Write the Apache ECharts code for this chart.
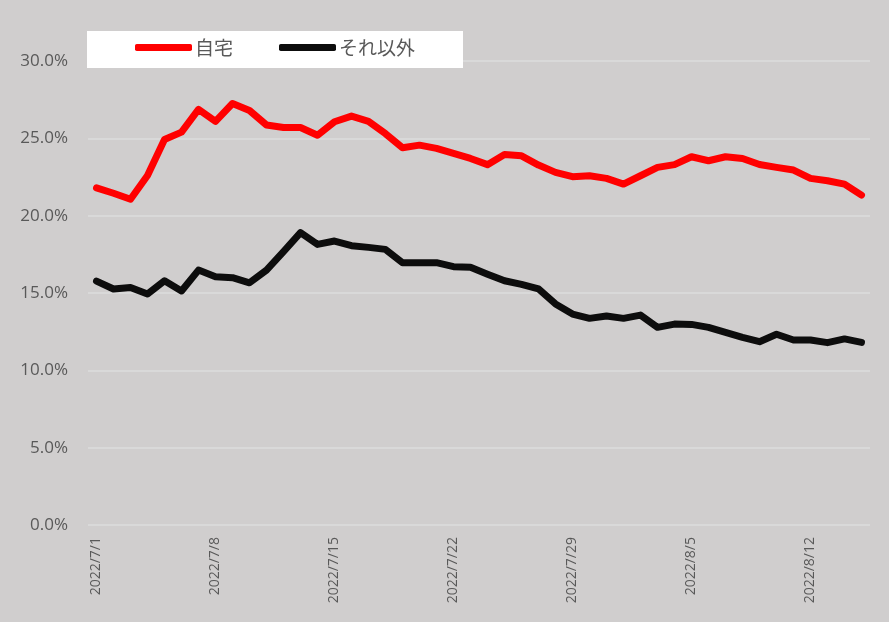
<!DOCTYPE html>
<html>
<head>
<meta charset="utf-8">
<style>
  html, body { margin: 0; padding: 0; background: #D0CECE; }
  #chart { width: 889px; height: 622px; }
</style>
<script src="https://cdn.jsdelivr.net/npm/echarts@6/dist/echarts.min.js"></script>
</head>
<body>
<div id="chart"></div>
<script>
// Daily dates, 2022/7/1 - 2022/8/15
const startDate = new Date(2022, 6, 1);
const dayCount = 46;
const dates = [];
for (let i = 0; i < dayCount; i++) {
  const d = new Date(startDate.getFullYear(), startDate.getMonth(), startDate.getDate() + i);
  dates.push(d.getFullYear() + '/' + (d.getMonth() + 1) + '/' + d.getDate());
}

const seriesNames = ['自宅', 'それ以外'];

// Share (%) at home
const homeValues = [
  21.8, 21.45, 21.06, 22.6, 24.93, 25.4, 26.87, 26.1, 27.25, 26.8,
  25.86, 25.7, 25.7, 25.2, 26.07, 26.44, 26.1, 25.3, 24.39, 24.56,
  24.35, 24.03, 23.7, 23.3, 23.96, 23.87, 23.27, 22.8, 22.52, 22.58,
  22.41, 22.04, 22.58, 23.12, 23.3, 23.81, 23.55, 23.81, 23.7, 23.31,
  23.12, 22.95, 22.41, 22.26, 22.04, 21.33
];

// Share (%) elsewhere
const otherValues = [
  15.77, 15.26, 15.36, 14.93, 15.79, 15.13, 16.48, 16.05, 15.99, 15.66,
  16.48, 17.67, 18.9, 18.14, 18.36, 18.06, 17.95, 17.82, 16.96, 16.96,
  16.96, 16.7, 16.66, 16.22, 15.79, 15.56, 15.26, 14.29, 13.64, 13.36,
  13.51, 13.36, 13.57, 12.78, 12.99, 12.97, 12.78, 12.46, 12.13, 11.85,
  12.33, 11.96, 11.96, 11.79, 12.03, 11.81
];

const yTicks = { min: 0, max: 30, interval: 5 };

const textColor = '#595959';
const cjkFont = '"Noto Sans CJK JP", sans-serif';
const numFont = '"Open Sans", "Noto Sans", sans-serif';

const chart = echarts.init(document.getElementById('chart'));
chart.setOption({
  backgroundColor: '#D0CECE',
  animation: false,
  textStyle: { fontFamily: numFont },
  grid: { left: 88, right: 19, top: 61, bottom: 97 },
  graphic: [{
    type: 'rect',
    z: 10,
    shape: { x: 87, y: 31, width: 376, height: 37 },
    style: { fill: '#FFFFFF' }
  }],
  legend: {
    z: 20,
    left: 135,
    top: 38,
    padding: 0,
    itemGap: 46,
    itemWidth: 57,
    itemHeight: 7,
    icon: 'roundRect',
    textStyle: { color: textColor, fontSize: 19, fontFamily: cjkFont, padding: [0, 0, 0, -2] },
    data: seriesNames
  },
  xAxis: {
    type: 'category',
    data: dates,
    boundaryGap: true,
    axisLine: { show: false },
    axisTick: { show: false },
    axisLabel: {
      interval: 6,
      rotate: 90,
      margin: 12,
      color: textColor,
      fontSize: 14,
      fontFamily: numFont
    },
    splitLine: { show: false }
  },
  yAxis: {
    type: 'value',
    min: yTicks.min,
    max: yTicks.max,
    interval: yTicks.interval,
    axisLine: { show: false },
    axisTick: { show: false },
    axisLabel: {
      margin: 20,
      color: textColor,
      fontSize: 17,
      fontFamily: numFont,
      formatter: v => v.toFixed(1) + '%'
    },
    splitLine: { lineStyle: { color: '#DCDCDC', width: 1.5 } }
  },
  series: [
    {
      name: seriesNames[0],
      type: 'line',
      data: homeValues,
      symbol: 'none',
      color: '#FF0000',
      lineStyle: { color: '#FF0000', width: 7, cap: 'round', join: 'round' }
    },
    {
      name: seriesNames[1],
      type: 'line',
      data: otherValues,
      symbol: 'none',
      color: '#0D0D0D',
      lineStyle: { color: '#0D0D0D', width: 7, cap: 'round', join: 'round' }
    }
  ]
});
</script>
</body>
</html>
